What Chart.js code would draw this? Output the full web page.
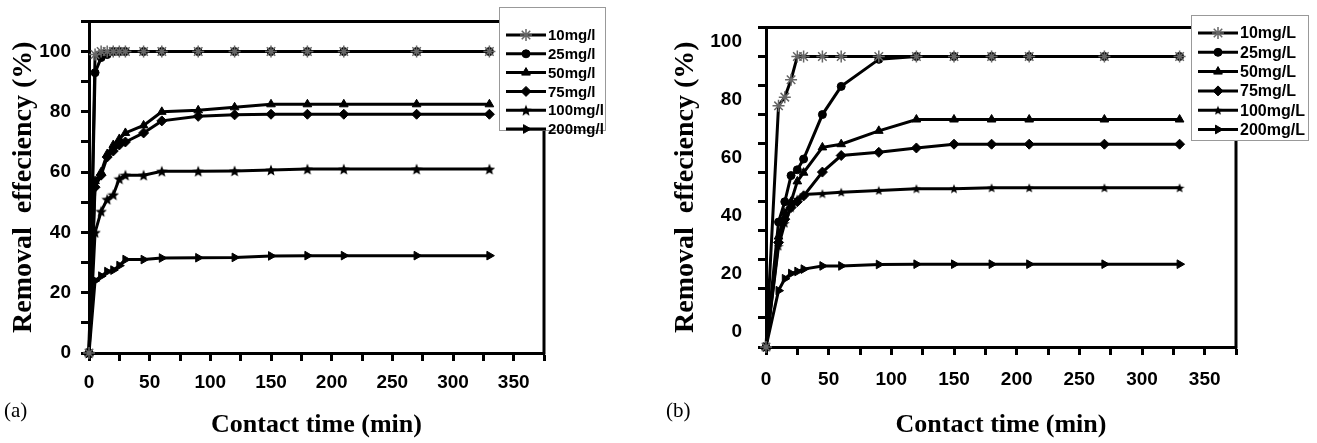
<!DOCTYPE html>
<html>
<head>
<meta charset="utf-8">
<script src="https://cdn.jsdelivr.net/npm/chart.js@4.4.1/dist/chart.umd.min.js"></script>
<style>
  html, body { margin: 0; padding: 0; background: #fff; }
  #wrap { position: relative; width: 1317px; height: 443px; overflow: hidden; }
  .box { position: absolute; top: 0; height: 443px; }
  #boxA { left: 0; width: 640px; }
  #boxB { left: 660px; width: 657px; }
  .tag { position: absolute; font-family: "Liberation Serif", serif; font-size: 21px; color: #000; }
</style>
</head>
<body>
<div id="wrap">
  <div class="box" id="boxA"><canvas id="chartA" width="640" height="443"></canvas></div>
  <div class="box" id="boxB"><canvas id="chartB" width="657" height="443"></canvas></div>
  <div class="tag" style="left:4px;top:398px">(a)</div>
  <div class="tag" style="left:666px;top:398px">(b)</div>
</div>
<script>
// ---- data, panel (a) ----
const timesA = [0, 5, 10, 15, 20, 25, 30, 45, 60, 90, 120, 150, 180, 210, 270, 330];
const labelsA = ["10mg/l", "25mg/l", "50mg/l", "75mg/l", "100mg/l", "200mg/l"];
const a10  = [0, 99, 100, 100, 100, 100, 100, 100, 100, 100, 100, 100, 100, 100, 100, 100];
const a25  = [0, 93, 98, 99, 100, 100, 100, 100, 100, 100, 100, 100, 100, 100, 100, 100];
const a50  = [0, 57, 60, 66, 69, 71, 73, 75.5, 80, 80.5, 81.5, 82.5, 82.5, 82.5, 82.5, 82.5];
const a75  = [0, 55, 59, 65, 67, 69, 70, 73, 77, 78.5, 79, 79.2, 79.2, 79.2, 79.2, 79.2];
const a100 = [0, 40, 47, 51, 52.5, 57.8, 59, 59, 60.3, 60.3, 60.4, 60.7, 61, 61, 61, 61];
const a200 = [0, 24, 25.5, 27, 27.5, 29, 31, 31, 31.5, 31.6, 31.7, 32.2, 32.3, 32.3, 32.3, 32.3];

// ---- data, panel (b) ----
const timesB = [0, 10, 15, 20, 25, 30, 45, 60, 90, 120, 150, 180, 210, 270, 330];
const labelsB = ["10mg/L", "25mg/L", "50mg/L", "75mg/L", "100mg/L", "200mg/L"];
const b10  = [0, 83, 86, 92, 100, 100, 100, 100, 100, 100, 100, 100, 100, 100, 100];
const b25  = [0, 43, 50, 59, 61, 64.7, 80, 89.7, 99, 100, 100, 100, 100, 100, 100];
const b50  = [0, 38, 46, 50, 57, 60, 68.7, 69.8, 74.4, 78.3, 78.3, 78.3, 78.3, 78.3, 78.3];
const b75  = [0, 36, 44, 48, 50, 52, 60.2, 65.9, 67, 68.5, 69.8, 69.8, 69.8, 69.8, 69.8];
const b100 = [0, 34.7, 42.6, 48, 51, 52.5, 52.8, 53.3, 53.9, 54.5, 54.5, 54.8, 54.8, 54.8, 54.8];
const b200 = [0, 19.4, 23.5, 25.3, 26, 26.8, 27.9, 27.9, 28.4, 28.5, 28.5, 28.5, 28.5, 28.5, 28.5];

const xTicks = [0, 50, 100, 150, 200, 250, 300, 350];
const yTicks = [0, 20, 40, 60, 80, 100];

// filled five point star used as a marker
function starImage(size) {
  const c = document.createElement("canvas");
  c.width = c.height = size;
  const g = c.getContext("2d");
  g.fillStyle = "#000";
  g.beginPath();
  for (let k = 0; k < 10; k++) {
    const r = k % 2 ? size * 0.22 : size * 0.5;
    const a = -Math.PI / 2 + k * Math.PI / 5;
    g.lineTo(size / 2 + r * Math.cos(a), size / 2 + r * Math.sin(a) + size * 0.05);
  }
  g.closePath();
  g.fill();
  return c;
}

function markers(starSize) {
  return [
    { pointStyle: "star", pointRadius: 6, pointBorderColor: "#666", pointBackgroundColor: "#666", pointBorderWidth: 1.5 },
    { pointStyle: "circle", pointRadius: 4 },
    { pointStyle: "triangle", pointRadius: 5 },
    { pointStyle: "rectRot", pointRadius: 5 },
    { pointStyle: starImage(starSize), pointRadius: 5 },
    { pointStyle: "triangle", pointRadius: 5, pointRotation: 90 },
  ];
}

const frame = {
  id: "frame",
  afterDraw(chart) {
    const { left, top, right, bottom } = chart.chartArea;
    const ctx = chart.ctx;
    ctx.save();
    ctx.strokeStyle = "#000";
    ctx.lineWidth = 3;
    ctx.beginPath();
    ctx.moveTo(left - 1.5, top);
    ctx.lineTo(right, top);
    ctx.lineTo(right, bottom + 1.5);
    ctx.stroke();
    ctx.restore();
  },
};

function drawMarker(ctx, ds, x, y) {
  ctx.save();
  ctx.fillStyle = ds.pointBackgroundColor || "#000";
  ctx.strokeStyle = ds.pointBorderColor || "#000";
  ctx.lineWidth = ds.pointBorderWidth || 1;
  Chart.helpers.drawPoint(ctx, {
    pointStyle: ds.pointStyle, radius: ds.pointRadius,
    rotation: ds.pointRotation || 0, borderWidth: ds.pointBorderWidth || 1,
  }, x, y);
  ctx.restore();
}

const legendBox = {
  id: "legendBox",
  afterDraw(chart, args, o) {
    const ctx = chart.ctx;
    ctx.save();
    ctx.fillStyle = "#fff";
    ctx.fillRect(o.x, o.y, o.w, o.h);
    ctx.strokeStyle = "#999";
    ctx.lineWidth = 1;
    ctx.strokeRect(o.x + 0.5, o.y + 0.5, o.w, o.h);
    ctx.font = "bold " + o.fontSize + "px 'Liberation Sans', Arial, sans-serif";
    ctx.textBaseline = "middle";
    chart.data.datasets.forEach((ds, i) => {
      const cy = o.y + o.first + i * o.step;
      const x0 = o.x + 7, x1 = x0 + 40;
      ctx.strokeStyle = "#000";
      ctx.lineWidth = 3;
      ctx.beginPath();
      ctx.moveTo(x0, cy);
      ctx.lineTo(x1, cy);
      ctx.stroke();
      drawMarker(ctx, ds, (x0 + x1) / 2, cy);
      ctx.fillStyle = "#000";
      ctx.fillText(ds.label, x1 + 2, cy + 1);
    });
    ctx.restore();
  },
};

function makeChart(id, times, series, labels, cfg) {
  const marks = markers(cfg.starSize);
  const datasets = series.map((vals, i) => Object.assign({
    label: labels[i],
    data: vals.map((v, k) => ({ x: times[k], y: v })),
    borderColor: "#000",
    borderWidth: 3,
    pointBackgroundColor: "#000",
    pointBorderColor: "#000",
    pointBorderWidth: 1,
    tension: 0,
    clip: 6,
  }, marks[i]));

  return new Chart(document.getElementById(id), {
    type: "line",
    data: { datasets },
    plugins: [frame, legendBox],
    options: {
      responsive: false,
      animation: false,
      layout: { padding: cfg.padding },
      plugins: {
        legend: { display: false },
        tooltip: { enabled: false },
        legendBox: cfg.legend,
      },
      scales: {
        x: {
          type: "linear", min: 0, max: 375,
          afterFit: (s) => { s.height = cfg.xHeight; },
          border: { display: true, color: "#000", width: 3 },
          grid: { display: true, drawOnChartArea: false, drawTicks: true, tickLength: 8, tickWidth: 3, tickColor: "#000" },
          ticks: {
            stepSize: 25, autoSkip: false, maxRotation: 0, padding: cfg.xPad, color: "#000",
            font: { family: "'Liberation Sans', Arial, sans-serif", weight: "bold", size: 19 },
            callback: (v) => (xTicks.includes(v) ? v : ""),
          },
          title: {
            display: true, text: "Contact time (min)", color: "#000",
            font: { family: "'Liberation Serif', 'Times New Roman', serif", weight: "bold", size: 26 },
            padding: { top: 0, bottom: cfg.xTitlePad },
          },
        },
        y: {
          min: 0, max: 110,
          afterFit: (s) => { s.width = cfg.yWidth; },
          border: { display: true, color: "#000", width: 3 },
          grid: { display: true, drawOnChartArea: false, drawTicks: true, tickLength: 8, tickWidth: 3, tickColor: "#000" },
          ticks: {
            stepSize: 10, autoSkip: false, padding: cfg.yPad, labelOffset: cfg.yLabelOffset, color: "#000",
            font: { family: "'Liberation Sans', Arial, sans-serif", weight: "bold", size: 19 },
            callback: (v) => (yTicks.includes(v) ? v : ""),
          },
          title: {
            display: true, text: "Removal  effeciency (%)", color: "#000",
            font: { family: "'Liberation Serif', 'Times New Roman', serif", weight: "bold", size: 28 },
            padding: { top: cfg.yTitlePad, bottom: 0 },
          },
        },
      },
    },
  });
}

makeChart("chartA", timesA, [a10, a25, a50, a75, a100, a200], labelsA, {
  starSize: 12,
  padding: { left: 0, top: 19, right: 96, bottom: 0 },
  xHeight: 90, yWidth: 89, xPad: 10, yPad: 10, yLabelOffset: 0,
  xTitlePad: 2, yTitlePad: 7,
  legend: { x: 499, y: 7, w: 106, h: 123, first: 28, step: 18.8, fontSize: 15 },
});

makeChart("chartB", timesB, [b10, b25, b50, b75, b100, b200], labelsB, {
  starSize: 10,
  padding: { left: 0, top: 23, right: 81, bottom: 0 },
  xHeight: 96, yWidth: 106, xPad: 13, yPad: 16, yLabelOffset: -15,
  xTitlePad: 2, yTitlePad: 9,
  legend: { x: 531, y: 15, w: 117, h: 125, first: 18, step: 19.3, fontSize: 16 },
});
</script>
</body>
</html>
